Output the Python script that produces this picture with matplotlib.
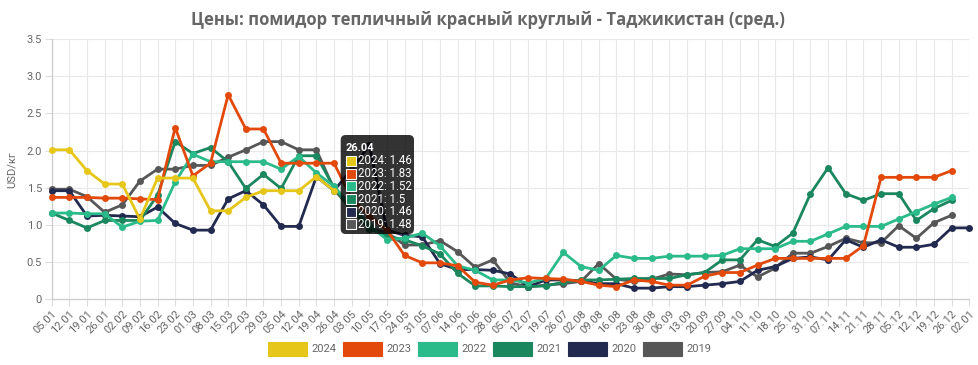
import matplotlib
matplotlib.use("Agg")
import matplotlib.pyplot as plt
from matplotlib.patches import Rectangle, FancyBboxPatch
from matplotlib.transforms import IdentityTransform

labels = ["05.01", "12.01", "19.01", "26.01", "02.02", "09.02", "16.02", "23.02", "01.03", "08.03",
          "15.03", "22.03", "29.03", "05.04", "12.04", "19.04", "26.04", "03.05", "10.05", "17.05",
          "24.05", "31.05", "07.06", "14.06", "21.06", "28.06", "05.07", "12.07", "19.07", "26.07",
          "02.08", "09.08", "16.08", "23.08", "30.08", "06.09", "13.09", "20.09", "27.09", "04.10",
          "11.10", "18.10", "25.10", "31.10", "07.11", "14.11", "21.11", "28.11", "05.12", "12.12",
          "19.12", "26.12", "02.01"]

years = ["2024", "2023", "2022", "2021", "2020", "2019"]

y2024 = [2.01, 2.01, 1.73, 1.55, 1.55, 1.08, 1.63, 1.63, 1.63, 1.19, 1.19, 1.37, 1.46, 1.46, 1.46,
         1.65, 1.46]

y2023 = [1.37, 1.37, 1.37, 1.36, 1.36, 1.35, 1.34, 2.31, 1.66, 1.83, 2.75, 2.29, 2.29, 1.83, 1.83,
         1.83, 1.83, 1.35, 1.12, 0.93, 0.59, 0.49, 0.49, 0.45, 0.23, 0.19, 0.26, 0.29, 0.28, 0.27,
         0.24, 0.19, 0.17, 0.26, 0.24, 0.19, 0.19, 0.31, 0.36, 0.36, 0.46, 0.55, 0.55, 0.55, 0.55,
         0.55, 0.72, 1.64, 1.64, 1.64, 1.64, 1.73]

y2022 = [1.16, 1.16, 1.15, 1.15, 0.97, 1.05, 1.06, 1.58, 1.95, 1.85, 1.85, 1.85, 1.85, 1.75, 1.92,
         1.70, 1.52, 1.25, 1.00, 0.80, 0.82, 0.89, 0.72, 0.45, 0.39, 0.26, 0.26, 0.22, 0.28, 0.63,
         0.44, 0.39, 0.59, 0.55, 0.55, 0.58, 0.58, 0.58, 0.59, 0.68, 0.68, 0.68, 0.78, 0.78, 0.88,
         0.98, 0.98, 0.98, 1.08, 1.18, 1.28, 1.37]

y2021 = [1.16, 1.06, 0.96, 1.06, 1.06, 1.06, 1.40, 2.12, 1.96, 2.04, 1.85, 1.49, 1.68, 1.49, 1.93,
         1.93, 1.50, 1.20, 0.95, 0.85, 0.80, 0.72, 0.61, 0.35, 0.18, 0.18, 0.17, 0.17, 0.18, 0.23,
         0.26, 0.26, 0.27, 0.28, 0.28, 0.28, 0.33, 0.36, 0.53, 0.53, 0.80, 0.71, 0.89, 1.42, 1.77,
         1.42, 1.33, 1.42, 1.42, 1.06, 1.22, 1.33]

y2020 = [1.46, 1.46, 1.12, 1.13, 1.12, 1.11, 1.24, 1.02, 0.93, 0.93, 1.35, 1.46, 1.27, 0.98, 0.98,
         1.65, 1.46, 1.75, 2.07, 0.93, 0.86, 0.84, 0.48, 0.40, 0.40, 0.39, 0.34, 0.17, 0.26, 0.26,
         0.25, 0.21, 0.21, 0.15, 0.15, 0.17, 0.17, 0.19, 0.21, 0.24, 0.39, 0.44, 0.55, 0.57, 0.53,
         0.80, 0.70, 0.80, 0.70, 0.70, 0.74, 0.96, 0.96]

y2019 = [1.48, 1.48, 1.38, 1.17, 1.27, 1.59, 1.75, 1.75, 1.80, 1.80, 1.91, 2.01, 2.12, 2.12, 2.01,
         2.01, 1.48, 1.20, 0.95, 0.90, 0.73, 0.73, 0.79, 0.64, 0.43, 0.53, 0.22, 0.17, 0.19, 0.21,
         0.24, 0.48, 0.27, 0.24, 0.27, 0.34, 0.33, 0.36, 0.37, 0.46, 0.30, 0.42, 0.62, 0.62, 0.71,
         0.82, 0.76, 0.76, 0.99, 0.82, 1.03, 1.13]

series = [y2024, y2023, y2022, y2021, y2020, y2019]
colors = ["#E5C619", "#E2490B", "#2BBA8A", "#1B875E", "#232A4F", "#575757"]

title = "Цены: помидор тепличный красный круглый - Таджикистан (сред.)"
ylabel = "USD/кг"
hover_idx = 16

W, H = 979, 365
FONT = ["Roboto", "DejaVu Sans"]
plt.rcParams["font.family"] = FONT

fig = plt.figure(figsize=(W / 100, H / 100), dpi=100)
left, right, top, bottom = 51.7, 969.3, 39.0, 299.3
ax = fig.add_axes([left / W, 1 - bottom / H, (right - left) / W, (bottom - top) / H])

n = len(labels)
for k, (yr, vals, c) in enumerate(zip(years, series, colors)):
    ax.plot(range(len(vals)), vals, color=c, lw=2.0, marker="o", ms=5.0,
            markeredgewidth=0, zorder=10 - k, clip_on=False, solid_joinstyle="round")

ax.set_xlim(0, n - 1)
ax.set_ylim(0, 3.5)
ax.set_xticks(range(n))
ax.set_xticklabels(labels, rotation=45, ha="right", rotation_mode="anchor")
ax.set_yticks([0, 0.5, 1.0, 1.5, 2.0, 2.5, 3.0, 3.5])
ax.set_yticklabels(["0", "0.5", "1.0", "1.5", "2.0", "2.5", "3.0", "3.5"])
ax.tick_params(axis="both", colors="#dddddd", labelcolor="#666666", labelsize=8,
               length=5, width=0.8, pad=2)
ax.grid(True, color="#e8e8e8", lw=0.8)
ax.set_axisbelow(True)
for s in ["top", "right"]:
    ax.spines[s].set_visible(False)
for s in ["left", "bottom"]:
    ax.spines[s].set_color("#cccccc")
    ax.spines[s].set_linewidth(0.9)

ident = IdentityTransform()

# title and y label
fig.text(488 / W, 1 - 20 / H, title, ha="center", va="center", fontsize=12,
         fontweight="bold", color="#666666", family=["Open Sans", "DejaVu Sans"])
fig.text(12 / W, 1 - 170 / H, ylabel, rotation=90, ha="center", va="center",
         fontsize=8, color="#666666")

# legend
for i, (yr, c) in enumerate(zip(years, colors)):
    x0 = 268 + i * 75
    fig.add_artist(Rectangle((x0, H - 355.7), 38.5, 14, transform=ident,
                             facecolor=c, edgecolor=c, lw=0.8))
    fig.text(x0 + 43, H - 348.7, yr, transform=ident, ha="left", va="center",
             fontsize=8, color="#666666")

# tooltip
bx0, by0, bx1, by1 = 340.7, 135.0, 414.0, 234.0
fig.add_artist(FancyBboxPatch((bx0, H - by1), bx1 - bx0, by1 - by0,
                              boxstyle="round,pad=0,rounding_size=5", transform=ident,
                              facecolor=(0, 0, 0, 0.8), edgecolor="none", zorder=20))
fig.text(346, H - 148, labels[hover_idx], transform=ident, ha="left", va="center",
         fontsize=8, fontweight="bold", color="white", zorder=21)
for i, (yr, vals, c) in enumerate(zip(years, series, colors)):
    yc = 161 + i * 12.67
    fig.add_artist(Rectangle((346.3, H - yc - 5), 10, 10, transform=ident,
                             facecolor=c, edgecolor="white", lw=0.8, zorder=21))
    fig.text(358.5, H - yc, f"{yr}: {vals[hover_idx]:g}", transform=ident, ha="left",
             va="center", fontsize=8.3, color="white", zorder=21)

fig.savefig("out.png", dpi=100, facecolor="white")
